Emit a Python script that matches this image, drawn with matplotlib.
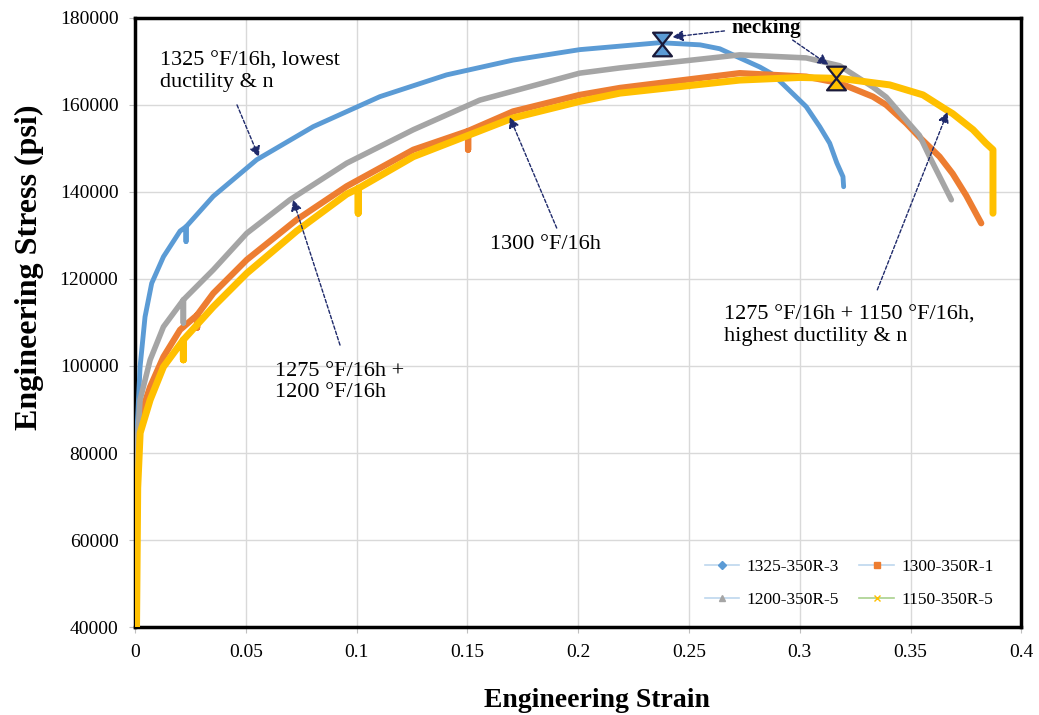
import numpy as np
import matplotlib.pyplot as plt
from matplotlib.path import Path
from matplotlib.lines import Line2D

plt.rcParams["font.family"] = ["Liberation Serif", "DejaVu Serif"]

# Stress-strain curves (strain, psi).
# Repeated strain values carry the small extensometer-removal dips.
strain_1325 = [0, 0.0008, 0.00226, 0.0045, 0.0075, 0.0128, 0.0203, 0.023, 0.023, 0.023,
               0.0353, 0.0549, 0.0804, 0.1105, 0.1406, 0.1706, 0.2007, 0.2368, 0.255, 0.2639,
               0.2729, 0.282, 0.2879, 0.3029, 0.309, 0.3135, 0.3167, 0.3195, 0.3198]
stress_1325 = [0, 84500, 99800, 111300, 119000, 125100, 131000, 132000, 128600, 132000,
               139000, 147400, 155000, 161900, 166900, 170300, 172700, 174300, 173800, 172900,
               170800, 168700, 167000, 159600, 155000, 151200, 146700, 143500, 141200]

strain_1300 = [0, 0.001, 0.0023, 0.0068, 0.0128, 0.0203, 0.028, 0.028, 0.028, 0.0353,
               0.0504, 0.0729, 0.0955, 0.1256, 0.1503, 0.1503, 0.1503, 0.1706, 0.2007, 0.2188,
               0.2729, 0.3029, 0.318, 0.333, 0.339, 0.348, 0.354, 0.3631, 0.369, 0.3751,
               0.3819]
stress_1300 = [0, 78000, 88400, 95200, 102100, 108300, 111700, 108800, 111700, 116700,
               124400, 133600, 141300, 149700, 154000, 149700, 154000, 158500, 162300, 163900,
               167300, 166500, 165000, 161900, 160000, 155800, 152600, 148100, 144200, 139200,
               132800]

strain_1200 = [0, 0.001, 0.00226, 0.0068, 0.0128, 0.0218, 0.0218, 0.0218, 0.0353, 0.0504,
               0.0699, 0.0955, 0.1256, 0.1556, 0.2007, 0.2188, 0.2639, 0.2729, 0.3029, 0.318,
               0.333, 0.339, 0.348, 0.354, 0.3586, 0.3684]
stress_1200 = [0, 82000, 92200, 101400, 109000, 115200, 109900, 115200, 122100, 130500,
               138200, 146600, 154300, 161100, 167300, 168500, 171000, 171500, 170800, 169000,
               164100, 161800, 156500, 153000, 148100, 138200]

strain_1150 = [0, 0.0012, 0.0023, 0.0068, 0.0128, 0.0218, 0.0218, 0.0218, 0.0353, 0.0504,
               0.0729, 0.0955, 0.1007, 0.1007, 0.1007, 0.1256, 0.1706, 0.2007, 0.2188, 0.2729,
               0.3, 0.318, 0.3406, 0.3556, 0.3661, 0.369, 0.3782, 0.384, 0.3872, 0.3872]
stress_1150 = [0, 72000, 84600, 92200, 99800, 106000, 101400, 106000, 113600, 121300,
               131000, 139500, 140800, 135100, 140800, 148100, 157000, 160800, 162700, 165700,
               166300, 166100, 164600, 162300, 158900, 158000, 154300, 151200, 149700, 135100]

series_names = ["1325-350R-3", "1300-350R-1", "1200-350R-5", "1150-350R-5"]
series_colors = ["#5B9BD5", "#ED7D31", "#A5A5A5", "#FFC000"]

# Necking points (strain, psi)
necking_strain = [0.238, 0.3162]
necking_stress = [174000, 166200]

x_ticks = [0, 0.05, 0.1, 0.15, 0.2, 0.25, 0.3, 0.35, 0.4]
x_tick_labels = ["0", "0.05", "0.1", "0.15", "0.2", "0.25", "0.3", "0.35", "0.4"]
y_ticks = [40000, 60000, 80000, 100000, 120000, 140000, 160000, 180000]

fig = plt.figure(figsize=(10.39, 7.15), dpi=100)
ax = fig.add_axes([0.130, 0.123, 0.853, 0.852])

curves = [
    (strain_1325, stress_1325, 3.5),
    (strain_1300, stress_1300, 4.5),
    (strain_1200, stress_1200, 4.0),
    (strain_1150, stress_1150, 5.0),
]
for (xs, ys, lw), color in zip(curves, series_colors):
    ax.plot(xs, ys, color=color, linewidth=lw, solid_capstyle="round",
            solid_joinstyle="round", zorder=3)

# Hourglass marker for the necking points
hourglass = Path([(-0.8, 1), (0.8, 1), (-0.8, -1), (0.8, -1), (-0.8, 1)], closed=True)
ax.plot(necking_strain[:1], necking_stress[:1], linestyle="none", marker=hourglass,
        markersize=17, markerfacecolor="#5B9BD5", markeredgecolor="#1a1a3a",
        markeredgewidth=1.6, zorder=5)
ax.plot(necking_strain[1:], necking_stress[1:], linestyle="none", marker=hourglass,
        markersize=17, markerfacecolor="#FFC000", markeredgecolor="#1a1a3a",
        markeredgewidth=1.6, zorder=5)

ax.set_xlim(0, 0.4)
ax.set_ylim(40000, 180000)
ax.set_xticks(x_ticks)
ax.set_xticklabels(x_tick_labels)
ax.set_yticks(y_ticks)
ax.tick_params(axis="both", labelsize=14, length=4, color="#bfbfbf", pad=8)
ax.grid(True, color="#d9d9d9", linewidth=1.0, zorder=0)
ax.set_axisbelow(True)
for spine in ax.spines.values():
    spine.set_linewidth(2.5)
    spine.set_color("black")

ax.set_xlabel("Engineering Strain", fontsize=20, fontweight="bold")
ax.set_ylabel("Engineering Stress (psi)", fontsize=23, fontweight="bold")
ax.xaxis.set_label_coords(0.521, -0.10)
ax.yaxis.set_label_coords(-0.103, 0.591)

arrow_kw = dict(arrowstyle="-|>", color="#1f2a6b", lw=1.0, linestyle=(0, (2.5, 1.5)),
                mutation_scale=16, shrinkA=0, shrinkB=0)

ax.text(0.0113, 167600, "1325 °F/16h, lowest\nductility & n", fontsize=16,
        ha="left", va="center", linespacing=1.15)
ax.annotate("", xy=(0.0559, 148000), xytext=(0.046, 160000), arrowprops=arrow_kw)

ax.text(0.0631, 96300, "1275 °F/16h +\n1200 °F/16h", fontsize=16, ha="left",
        va="center", linespacing=1.15)
ax.annotate("", xy=(0.0713, 138200), xytext=(0.0925, 104800), arrowprops=arrow_kw)

ax.text(0.1854, 128000, "1300 °F/16h", fontsize=16, ha="center", va="center")
ax.annotate("", xy=(0.1691, 157200), xytext=(0.1903, 131700), arrowprops=arrow_kw)

ax.text(0.2657, 109200, "1275 °F/16h + 1150 °F/16h,\nhighest ductility & n",
        fontsize=16, ha="left", va="center", linespacing=1.15)
ax.annotate("", xy=(0.3667, 158400), xytext=(0.335, 117500), arrowprops=arrow_kw)

ax.text(0.285, 177600, "necking", fontsize=15, fontweight="bold", ha="center", va="center")
ax.annotate("", xy=(0.2425, 175600), xytext=(0.266, 177000), arrowprops=arrow_kw)
ax.annotate("", xy=(0.313, 169200), xytext=(0.2968, 174900), arrowprops=arrow_kw)

# Legend styled like the spreadsheet original (filled row by row)
legend_markers = ["D", "s", "^", "x"]
legend_lines = ["#BDD7EE", "#BDD7EE", "#BDD7EE", "#A9D18E"]
handles = [
    Line2D([0], [0], color=lc, lw=1.2, marker=m, markersize=4, markerfacecolor=c,
           markeredgecolor=c)
    for m, lc, c in zip(legend_markers, legend_lines, series_colors)
]
order = [0, 2, 1, 3]
ax.legend([handles[i] for i in order], [series_names[i] for i in order],
          loc="lower left", bbox_to_anchor=(0.625, 0.005), ncol=2,
          frameon=False, fontsize=12.5, handlelength=2.0, columnspacing=1.2,
          labelspacing=1.0, handletextpad=0.4)

fig.savefig("out.png", dpi=100)
